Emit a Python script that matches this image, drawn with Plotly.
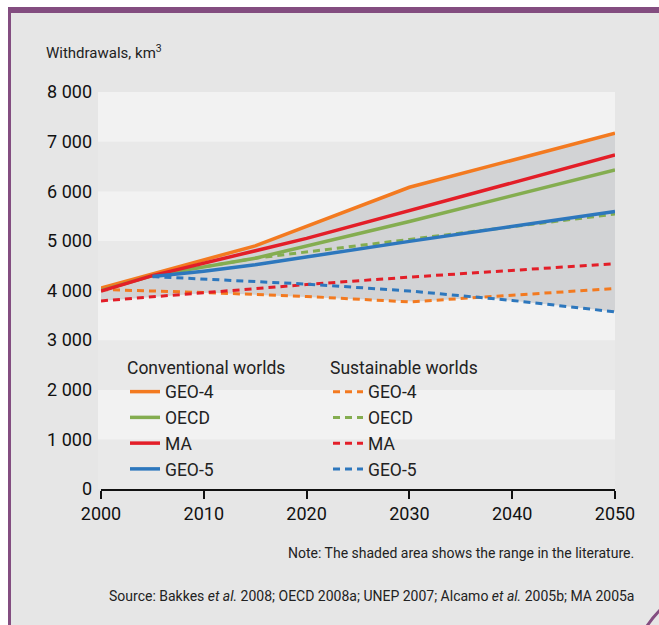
import numpy as np
import plotly.graph_objects as go

# ---- data ----
names = ["GEO-4", "OECD", "MA", "GEO-5"]
colors = ["#f37a20", "#84ad50", "#e31e28", "#2d77bd"]

conv_years = {
    "GEO-4": [2000, 2015, 2030, 2050],
    "OECD": [2000, 2005, 2015, 2030, 2050],
    "MA": [2000, 2005, 2020, 2050],
    "GEO-5": [2005, 2010, 2015, 2030, 2050],
}
conv_vals = {
    "GEO-4": [4050, 4900, 6080, 7170],
    "OECD": [4000, 4300, 4650, 5390, 6430],
    "MA": [3990, 4300, 5050, 6730],
    "GEO-5": [4280, 4390, 4520, 4990, 5590],
}
sust_years = {
    "GEO-4": [2000, 2010, 2020, 2030, 2050],
    "OECD": [2000, 2005, 2015, 2020, 2030, 2050],
    "MA": [2000, 2010, 2020, 2030, 2050],
    "GEO-5": [2005, 2010, 2020, 2030, 2040, 2050],
}
sust_vals = {
    "GEO-4": [4020, 3960, 3880, 3770, 4040],
    "OECD": [4000, 4300, 4650, 4780, 5030, 5540],
    "MA": [3790, 3960, 4120, 4270, 4540],
    "GEO-5": [4280, 4230, 4130, 3990, 3800, 3570],
}
y_ticks = [0, 1000, 2000, 3000, 4000, 5000, 6000, 7000, 8000]
y_ticktext = ["0", "1 000", "2 000", "3 000", "4 000", "5 000", "6 000", "7 000", "8 000"]
x_ticks = [2000, 2010, 2020, 2030, 2040, 2050]

FONT = "Roboto, sans-serif"
W, H = 659, 625
L, R, T, B = 101, 44, 92, 136
PW, PH = W - L - R, H - T - B


def px(X):
    return (X - L) / PW


def py(Y):
    return (H - B - Y) / PH


fig = go.Figure()

# ---- shaded range (envelope of all series) ----
grid = np.arange(2000, 2050.01, 0.25)
allseries = []
for d_y, d_v in ((conv_years, conv_vals), (sust_years, sust_vals)):
    for n in names:
        allseries.append(np.interp(grid, d_y[n], d_v[n], left=np.nan, right=np.nan))
allseries = np.vstack(allseries)
upper = np.nanmax(allseries, axis=0)
lower = np.nanmin(allseries, axis=0)
fig.add_trace(go.Scatter(x=grid, y=lower, mode="lines", line=dict(width=0),
                         showlegend=False, hoverinfo="skip"))
fig.add_trace(go.Scatter(x=grid, y=upper, mode="lines", line=dict(width=0),
                         fill="tonexty", fillcolor="#d2d3d5", showlegend=False,
                         hoverinfo="skip"))

# ---- sustainable (dashed) ----
for n, c in zip(names, colors):
    fig.add_trace(go.Scatter(x=sust_years[n], y=sust_vals[n], mode="lines", name=n,
                             line=dict(color=c, width=3, dash="7px,5px"),
                             legend="legend2"))
# ---- conventional (solid) ----
for n, c in zip(names, colors):
    fig.add_trace(go.Scatter(x=conv_years[n], y=conv_vals[n], mode="lines", name=n,
                             line=dict(color=c, width=3.5), legend="legend"))

shapes = []
# alternating bands in plot area
for i, lo in enumerate(y_ticks[:-1]):
    shapes.append(dict(type="rect", xref="paper", yref="y", x0=px(98), x1=1,
                       y0=lo, y1=lo + 1000, layer="below", line=dict(width=0),
                       fillcolor="#e9e9e9" if i % 2 == 0 else "#f2f2f2"))
# frame decoration
purple = "#834d80"
shapes += [
    dict(type="rect", xref="paper", yref="paper", x0=px(0), x1=px(W), y0=py(0), y1=py(7),
         fillcolor="white", line=dict(width=0), layer="below"),
    dict(type="rect", xref="paper", yref="paper", x0=px(0), x1=px(8), y0=py(0), y1=py(H),
         fillcolor="white", line=dict(width=0), layer="below"),
    dict(type="rect", xref="paper", yref="paper", x0=px(8), x1=px(W), y0=py(7), y1=py(13),
         fillcolor=purple, line=dict(width=0), layer="below"),
    dict(type="rect", xref="paper", yref="paper", x0=px(8), x1=px(11), y0=py(7), y1=py(H),
         fillcolor=purple, line=dict(width=0), layer="below"),
    dict(type="path", xref="paper", yref="paper",
         path=f"M {px(647)},{py(626)} Q {px(653)},{py(617)} {px(660)},{py(610)}",
         line=dict(color=purple, width=3), layer="above"),
]

annotations = [
    dict(text="Withdrawals, km<sup>3</sup>", x=px(44), y=py(52), xref="paper", yref="paper",
         xanchor="left", yanchor="middle", showarrow=False,
         font=dict(family=FONT, size=15, color="#222")),
    dict(text="Note: The shaded area shows the range in the literature.", x=px(636), y=py(553),
         xref="paper", yref="paper", xanchor="right", yanchor="middle", showarrow=False,
         font=dict(family=FONT, size=14, color="#222")),
    dict(text="Source: Bakkes <i>et al.</i> 2008; OECD 2008a; UNEP 2007; Alcamo <i>et al.</i> 2005b; MA 2005a",
         x=px(636), y=py(596), xref="paper", yref="paper", xanchor="right", yanchor="middle",
         showarrow=False, font=dict(family=FONT, size=14, color="#222")),
]

legend_common = dict(bgcolor="rgba(0,0,0,0)", font=dict(family=FONT, size=17.5, color="#222"),
                     xanchor="left", yanchor="top", tracegroupgap=0, traceorder="normal")

fig.update_layout(
    width=W, height=H,
    margin=dict(l=L, r=R, t=T, b=B),
    paper_bgcolor="#e6e6e6", plot_bgcolor="rgba(0,0,0,0)",
    shapes=shapes, annotations=annotations,
    showlegend=True,
    legend=dict(legend_common, x=px(125), y=py(351),
                title=dict(text="Conventional worlds", font=dict(family=FONT, size=17.5, color="#222"))),
    legend2=dict(legend_common, x=px(328), y=py(351),
                 title=dict(text="Sustainable worlds", font=dict(family=FONT, size=17.5, color="#222"))),
    xaxis=dict(range=[2000, 2050], tickvals=x_ticks, showgrid=False, zeroline=False,
               showline=True, linecolor="#111", linewidth=1.5, ticks="outside", ticklen=8,
               tickwidth=1.5, tickcolor="#111",
               tickfont=dict(family=FONT, size=18, color="#111")),
    yaxis=dict(range=[0, 8000], tickvals=y_ticks, ticktext=y_ticktext, showgrid=False,
               zeroline=False, showline=False, ticks="", ticklabelstandoff=8,
               tickfont=dict(family=FONT, size=18, color="#111")),
)

fig.write_html("out.html", config={"displayModeBar": False},
               post_script="document.body.style.margin='0px';")
